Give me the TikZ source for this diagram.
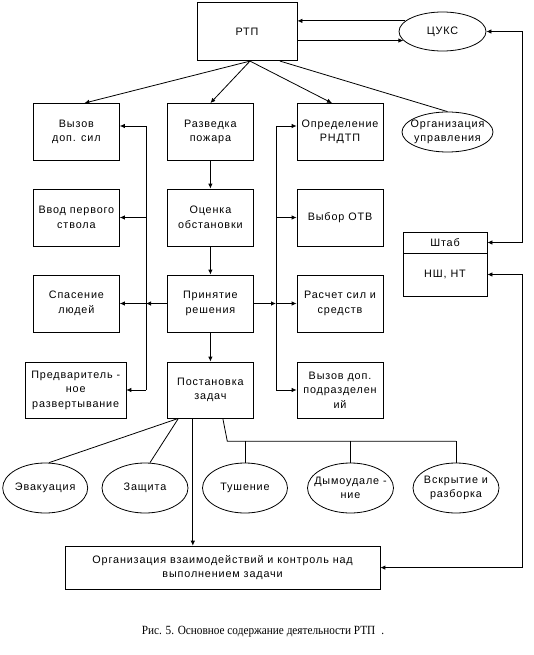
\documentclass[tikz,border=0pt]{standalone}
\usepackage{fontspec}
\setmainfont{Liberation Sans}[LetterSpace=8]
\newfontfamily\capfont{Liberation Serif}[FakeStretch=0.9]
\usetikzlibrary{shapes.geometric,arrows.meta}
\begin{document}
\begin{tikzpicture}[x=1pt,y=-1pt,
  every node/.style={font=\fontsize{10.8}{14.5}\selectfont, align=center},
  ln/.style={line width=0.8pt},
  box/.style={draw, ln, minimum width=86pt, minimum height=57pt, inner sep=1pt},
  ell/.style={draw, ln, ellipse, inner sep=-8pt, minimum width=86pt, minimum height=50pt},
  arr/.style={ln, -{Latex[length=5pt,width=4.5pt]}},
  arrb/.style={ln, {Latex[length=5pt,width=4.5pt]}-{Latex[length=5pt,width=4.5pt]}},
]
\useasboundingbox (0,0) rectangle (533,655);

% top
\node[box, minimum width=100pt, minimum height=58pt] (rtp) at (247,31.7) {РТП};
\node[ell, minimum width=87pt, minimum height=39pt] (cuks) at (442.5,31.5) {ЦУКС};

% row 1
\node[box] (vyz) at (76.4,132) {Вызов\\доп. сил};
\node[box] (razv) at (210.4,132) {Разведка\\пожара};
\node[box] (opr) at (340,132) {Определение\\РНДТП};
\node[ell, minimum width=91pt, minimum height=40pt] (orgu) at (447.5,132) {Организация\\управления};

% row 2
\node[box] (vvod) at (76.4,217.5) {Ввод первого\\ствола};
\node[box] (ocen) at (210.4,217.5) {Оценка\\обстановки};
\node[box] (vybor) at (340,217.5) {Выбор ОТВ};

% staff
\node[draw, ln, minimum width=84pt, minimum height=21pt, inner sep=0pt] (shtab) at (445,242.5) {Штаб};
\node[draw, ln, minimum width=84pt, minimum height=43pt, inner sep=0pt] (nsh) at (445,274.5) {НШ, НТ};

% row 3
\node[box] (spas) at (76.4,303.5) {Спасение\\людей};
\node[box] (prin) at (210.4,303.5) {Принятие\\решения};
\node[box] (rasch) at (340,303.5) {Расчет сил и\\средств};

% row 4
\node[box, minimum width=100.4pt, minimum height=56pt] (pred) at (75.7,390) {Предваритель -\\ное\\развертывание};
\node[box, minimum height=56pt] (post) at (210.4,390) {Постановка\\задач};
\node[box, minimum height=56pt] (vyzp) at (340,390) {Вызов доп.\\подразделен\\ий};

% ellipses
\node[ell, minimum width=85pt] (ev) at (45.2,488) {Эвакуация};
\node[ell, minimum width=86pt] (zash) at (145,488) {Защита};
\node[ell, minimum width=85pt] (tush) at (245,488) {Тушение};
\node[ell, minimum width=86pt] (dym) at (350.5,488) {Дымоудале -\\ние};
\node[ell, minimum width=86pt] (vskr) at (456,488) {Вскрытие и\\разборка};

% bottom
\node[box, minimum width=314.7pt, minimum height=43pt] (fin) at (222.6,567.6) {Организация взаимодействий и контроль над\\выполнением задачи};

% caption
\node[font=\capfont\fontsize{12.5}{14}\selectfont] (cap) at (263,632) {Рис. 5. Основное содержание деятельности РТП\hspace{6pt}.};

% RTP <-> CUKS
\draw[arr] (rtp.east |- cuks.193) -- (cuks.193);
\draw[arr] (cuks.164) -- (cuks.164 -| rtp.east);

% RTP fan-out
\coordinate (rs) at ([xshift=3pt]rtp.south);
\draw[arr] (rs) -- ([xshift=8pt]vyz.north);
\draw[arr] (rs) -- (razv.north);
\draw[arr] (rs) -- ([xshift=-8pt]opr.north);
\draw[ln] ([xshift=33pt]rtp.south) -- (orgu.north);

% centre column
\draw[arr] (razv.south) -- (ocen.north);
\draw[arr] (ocen.south) -- (prin.north);
\draw[arr] (prin.south) -- (post.north);

% left bus
\coordinate (lt) at (146,126);
\coordinate (lb) at (146,390);
\draw[ln] (lt) -- (lb);
\draw[arr] (lt) -- (lt -| vyz.east);
\draw[arr] (lt |- vvod.east) -- (vvod.east);
\draw[arr] (prin.west) -- (lt |- prin.west);
\draw[arr] (lt |- prin.west) -- (spas.east);
\draw[arr] (lb) -- (lb -| pred.east);

% right bus
\coordinate (rt) at (276,126);
\coordinate (rb) at (276,390);
\draw[ln] (rt) -- (rb);
\draw[arr] (rt) -- (rt -| opr.west);
\draw[arr] (rt |- vybor.west) -- (vybor.west);
\draw[arr] (prin.east) -- (rt |- prin.east);
\draw[arr] (rt |- prin.east) -- (rasch.west);
\draw[arr] (rb) -- (rb -| vyzp.west);

% tasks
\coordinate (p1) at ([xshift=-32pt]post.south);
\draw[ln] (p1) -- ([xshift=4pt]ev.north);
\draw[ln] (p1) -- ([xshift=5pt]zash.north);
\draw[arr] ([xshift=-17.6pt]post.south) -- ([xshift=-17.6pt]post.south |- fin.north);
\coordinate (bus) at (227.3,441.3);
\draw[ln] ([xshift=12.4pt]post.south) -- (bus) -- (bus -| vskr.north);
\draw[ln] (bus -| tush.north) -- (tush.north);
\draw[ln] (bus -| dym.north) -- (dym.north);
\draw[ln] (bus -| vskr.north) -- (vskr.north);

% right side links
\coordinate (xr) at (522.5,31.5);
\draw[arrb] (cuks.east) -- (xr) -- (xr |- shtab.east) -- (shtab.east);
\draw[arrb] (nsh.east) -- (nsh.east -| xr) -- (xr |- fin.east) -- (fin.east);
\end{tikzpicture}
\end{document}
